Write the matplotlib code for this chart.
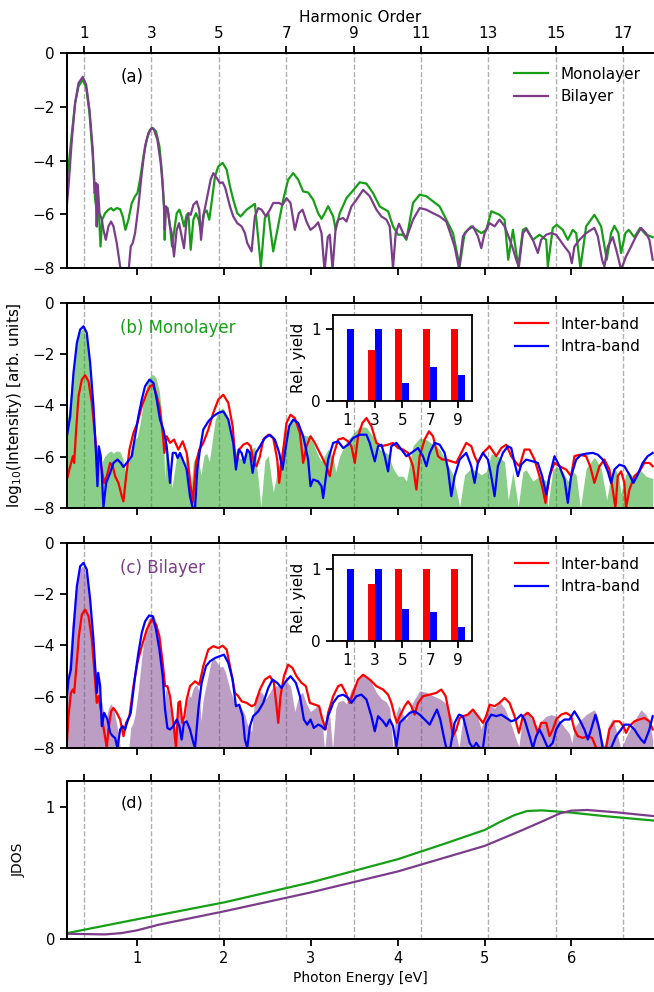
import matplotlib.pyplot as plt
import numpy as np

# photon energy of the driving field [eV]
w0 = 0.388
harm = [1, 3, 5, 7, 9, 11, 13, 15, 17]

# (a) total spectra, log10 intensity vs photon energy [eV]
mono_E = [0.180, 0.211, 0.249, 0.287, 0.326, 0.375, 0.414, 0.452, 0.490, 0.517, 0.529, 0.536, 0.548, 0.563,
          0.579, 0.598, 0.632, 0.670, 0.701, 0.728, 0.766, 0.805, 0.835, 0.866, 0.900, 0.939, 0.977, 1.004,
          1.034, 1.073, 1.111, 1.149, 1.180, 1.218, 1.257, 1.287, 1.310, 1.318, 1.330, 1.352, 1.379, 1.402,
          1.429, 1.456, 1.487, 1.513, 1.540, 1.571, 1.590, 1.617, 1.648, 1.678, 1.709, 1.736, 1.770, 1.801,
          1.831, 1.862, 1.897, 1.935, 1.985, 2.031, 2.069, 2.107, 2.153, 2.192, 2.261, 2.356, 2.425, 2.471,
          2.510, 2.567, 2.644, 2.682, 2.739, 2.797, 2.854, 2.912, 2.969, 3.027, 3.084, 3.123, 3.161, 3.199,
          3.257, 3.287, 3.333, 3.410, 3.487, 3.563, 3.640, 3.716, 3.793, 3.889, 3.946, 4.004, 4.061, 4.100,
          4.176, 4.253, 4.330, 4.406, 4.483, 4.559, 4.636, 4.713, 4.770, 4.847, 4.962, 5.019, 5.077, 5.172,
          5.230, 5.272, 5.326, 5.387, 5.441, 5.479, 5.556, 5.632, 5.709, 5.728, 5.785, 5.831, 5.900, 5.958,
          6.015, 6.054, 6.103, 6.169, 6.264, 6.341, 6.406, 6.456, 6.494, 6.540, 6.571, 6.621, 6.659, 6.724,
          6.789, 6.858, 6.935]
mono_I = [-4.96, -4.22, -2.98, -1.86, -1.24, -0.99, -1.30, -2.23, -3.85, -5.46, -5.71, -6.45, -5.58, -6.08,
          -7.20, -6.20, -5.96, -5.83, -5.77, -5.86, -5.77, -5.81, -6.08, -6.58, -6.20, -5.58, -5.33, -5.21,
          -4.71, -3.85, -3.23, -2.85, -2.79, -2.92, -3.47, -4.47, -5.71, -6.95, -5.71, -5.77, -6.45, -7.20,
          -6.58, -5.96, -5.83, -6.08, -6.45, -6.02, -5.96, -7.32, -6.20, -5.96, -6.20, -6.70, -5.96, -5.86,
          -6.20, -5.46, -4.59, -4.22, -4.09, -4.34, -4.96, -5.46, -5.96, -6.08, -5.83, -5.61, -7.94, -6.14,
          -5.96, -7.38, -6.08, -5.46, -4.71, -4.47, -4.71, -5.15, -5.19, -5.46, -5.96, -6.17, -5.95, -5.70,
          -6.08, -6.58, -5.96, -5.40, -5.11, -4.81, -4.86, -5.21, -5.71, -5.89, -6.45, -6.76, -6.76, -6.95,
          -5.58, -5.27, -5.33, -5.52, -5.71, -6.20, -6.70, -7.94, -6.70, -6.45, -6.70, -6.58, -5.89, -6.02,
          -6.20, -7.69, -6.58, -7.94, -6.58, -6.51, -6.95, -6.76, -6.95, -7.94, -6.51, -6.39, -6.58, -6.95,
          -6.58, -6.70, -8.00, -6.45, -6.02, -6.45, -7.69, -6.70, -6.43, -6.70, -7.44, -6.70, -6.58, -6.85,
          -6.51, -6.76, -6.85]

bi_E = [0.180, 0.211, 0.249, 0.287, 0.326, 0.375, 0.414, 0.452, 0.490, 0.513, 0.529, 0.536, 0.548, 0.567,
        0.594, 0.613, 0.640, 0.670, 0.701, 0.728, 0.766, 0.805, 0.835, 0.900, 0.927, 0.950, 0.977, 1.015,
        1.054, 1.092, 1.130, 1.169, 1.195, 1.234, 1.272, 1.295, 1.310, 1.318, 1.330, 1.352, 1.379, 1.398,
        1.425, 1.456, 1.483, 1.506, 1.540, 1.571, 1.594, 1.617, 1.648, 1.686, 1.716, 1.736, 1.762, 1.801,
        1.847, 1.877, 1.916, 1.954, 1.985, 2.015, 2.069, 2.107, 2.153, 2.203, 2.241, 2.268, 2.318, 2.356,
        2.395, 2.433, 2.483, 2.529, 2.567, 2.636, 2.674, 2.720, 2.766, 2.816, 2.862, 2.904, 2.950, 2.996,
        3.046, 3.084, 3.123, 3.158, 3.195, 3.218, 3.250, 3.287, 3.314, 3.372, 3.410, 3.467, 3.525, 3.602,
        3.678, 3.755, 3.812, 3.870, 3.908, 3.946, 3.977, 4.015, 4.061, 4.100, 4.176, 4.253, 4.330, 4.406,
        4.483, 4.559, 4.605, 4.655, 4.705, 4.751, 4.808, 4.866, 4.923, 4.962, 5.000, 5.057, 5.115, 5.172,
        5.230, 5.268, 5.318, 5.364, 5.395, 5.441, 5.479, 5.556, 5.613, 5.651, 5.709, 5.766, 5.824, 5.920,
        5.977, 6.004, 6.034, 6.092, 6.169, 6.226, 6.264, 6.303, 6.352, 6.379, 6.418, 6.475, 6.525, 6.571,
        6.628, 6.686, 6.743, 6.801, 6.858, 6.897, 6.935]
bi_I = [-6.14, -4.96, -3.23, -1.86, -1.12, -0.89, -1.18, -2.11, -3.60, -5.21, -4.84, -6.45, -4.90, -5.96,
        -6.20, -6.58, -6.95, -6.45, -6.27, -6.45, -7.07, -7.94, -8.31, -8.19, -7.20, -7.07, -6.70, -5.71,
        -4.47, -3.47, -2.98, -2.79, -2.85, -3.23, -4.09, -4.96, -5.71, -6.58, -5.71, -5.83, -6.45, -6.70,
        -7.57, -6.58, -6.33, -6.70, -7.26, -6.20, -5.96, -6.02, -5.65, -5.52, -5.83, -6.95, -6.08, -5.46,
        -4.71, -4.47, -4.65, -4.84, -4.81, -5.02, -5.71, -6.08, -6.33, -6.45, -6.70, -7.07, -7.38, -6.08,
        -5.77, -5.83, -6.08, -5.83, -5.58, -5.58, -5.65, -5.40, -5.58, -6.58, -5.96, -5.83, -6.27, -6.58,
        -6.45, -6.30, -6.70, -8.10, -6.85, -6.76, -8.05, -6.45, -6.20, -6.14, -6.27, -5.71, -5.46, -5.09,
        -5.33, -5.83, -6.08, -6.20, -6.45, -8.00, -6.70, -6.35, -6.70, -6.89, -6.20, -5.77, -5.83, -5.96,
        -6.08, -6.27, -6.70, -7.20, -8.00, -6.82, -6.58, -6.45, -6.82, -7.26, -6.70, -6.33, -6.45, -6.20,
        -6.45, -6.76, -7.20, -7.69, -7.94, -6.70, -6.55, -6.95, -7.44, -6.95, -6.76, -6.70, -6.76, -7.20,
        -7.44, -7.82, -7.20, -6.95, -6.70, -6.58, -6.51, -6.82, -7.69, -7.94, -7.20, -6.85, -7.44, -8.06,
        -7.57, -7.20, -6.82, -6.51, -6.70, -6.95, -7.69]

# (b) monolayer, inter-band and intra-band contributions
mono_intra_E = [0.192, 0.230, 0.268, 0.307, 0.345, 0.383, 0.421, 0.460, 0.498, 0.525, 0.544, 0.559, 0.582,
                0.613, 0.644, 0.690, 0.728, 0.774, 0.812, 0.843, 0.881, 0.939, 0.977, 1.015, 1.054, 1.092,
                1.142, 1.188, 1.226, 1.264, 1.303, 1.341, 1.379, 1.410, 1.444, 1.467, 1.494, 1.525, 1.571,
                1.609, 1.640, 1.667, 1.693, 1.724, 1.762, 1.820, 1.877, 1.935, 1.992, 2.050, 2.107, 2.138,
                2.169, 2.203, 2.234, 2.268, 2.299, 2.330, 2.368, 2.414, 2.471, 2.529, 2.586, 2.636, 2.674,
                2.713, 2.751, 2.797, 2.854, 2.912, 2.969, 2.996, 3.027, 3.084, 3.123, 3.142, 3.199, 3.257,
                3.314, 3.372, 3.429, 3.487, 3.563, 3.640, 3.678, 3.736, 3.774, 3.812, 3.851, 3.889, 3.927,
                3.985, 4.042, 4.100, 4.157, 4.234, 4.291, 4.330, 4.368, 4.425, 4.483, 4.540, 4.579, 4.617,
                4.655, 4.713, 4.789, 4.847, 4.885, 4.923, 4.981, 5.038, 5.077, 5.115, 5.153, 5.211, 5.268,
                5.307, 5.345, 5.383, 5.421, 5.479, 5.556, 5.613, 5.663, 5.709, 5.747, 5.805, 5.862, 5.920,
                5.958, 5.996, 6.054, 6.111, 6.169, 6.245, 6.303, 6.360, 6.418, 6.456, 6.494, 6.552, 6.609,
                6.667, 6.713, 6.762, 6.820, 6.877, 6.935]
mono_intra_I = [-5.20, -4.42, -2.73, -1.56, -1.04, -0.91, -1.17, -2.34, -4.03, -5.72, -7.15, -5.59, -5.98,
                -7.96, -7.02, -6.63, -6.24, -6.11, -6.24, -6.40, -6.24, -5.98, -5.20, -4.42, -3.77, -3.25,
                -2.99, -3.12, -3.77, -4.55, -4.94, -5.59, -7.02, -5.85, -5.85, -6.05, -5.85, -6.11, -6.50,
                -7.54, -8.00, -8.00, -6.50, -5.72, -4.94, -4.62, -4.42, -4.29, -4.23, -4.55, -5.46, -6.50,
                -5.72, -5.85, -6.24, -5.72, -5.85, -6.63, -5.85, -5.59, -5.27, -5.14, -5.33, -5.85, -6.50,
                -5.59, -4.81, -4.55, -4.68, -5.20, -6.11, -7.15, -6.89, -6.96, -7.15, -7.61, -6.11, -5.46,
                -5.40, -5.66, -5.53, -5.27, -5.14, -5.14, -5.46, -6.18, -5.59, -5.53, -5.98, -6.57, -5.59,
                -5.46, -5.72, -5.98, -5.85, -5.66, -5.98, -6.37, -5.85, -5.46, -5.53, -5.85, -6.50, -7.54,
                -6.76, -6.11, -5.85, -6.37, -7.02, -6.24, -5.85, -6.11, -6.76, -7.54, -6.37, -5.85, -5.59,
                -5.66, -6.24, -6.76, -6.31, -6.11, -6.18, -6.24, -6.76, -7.48, -6.76, -5.98, -6.37, -6.89,
                -7.80, -6.76, -6.11, -5.92, -5.88, -5.85, -5.92, -6.11, -6.57, -7.02, -6.50, -6.31, -6.37,
                -6.70, -7.02, -6.70, -6.24, -5.98, -5.85]

mono_inter_E = [0.192, 0.230, 0.261, 0.276, 0.299, 0.326, 0.364, 0.402, 0.441, 0.479, 0.517, 0.544, 0.567,
                0.594, 0.621, 0.651, 0.690, 0.720, 0.747, 0.785, 0.824, 0.843, 0.874, 0.912, 0.958, 1.004,
                1.054, 1.111, 1.149, 1.180, 1.218, 1.257, 1.295, 1.314, 1.341, 1.379, 1.425, 1.475, 1.525,
                1.571, 1.609, 1.640, 1.678, 1.716, 1.762, 1.820, 1.877, 1.935, 1.992, 2.050, 2.100, 2.126,
                2.146, 2.176, 2.222, 2.268, 2.307, 2.345, 2.375, 2.414, 2.452, 2.510, 2.567, 2.613, 2.636,
                2.663, 2.720, 2.766, 2.816, 2.874, 2.912, 2.950, 2.996, 3.046, 3.103, 3.180, 3.218, 3.257,
                3.314, 3.372, 3.429, 3.467, 3.506, 3.544, 3.594, 3.640, 3.697, 3.755, 3.812, 3.889, 3.946,
                4.004, 4.061, 4.119, 4.176, 4.215, 4.253, 4.310, 4.360, 4.406, 4.464, 4.513, 4.559, 4.617,
                4.674, 4.732, 4.789, 4.847, 4.885, 4.923, 4.981, 5.057, 5.134, 5.192, 5.249, 5.307, 5.364,
                5.402, 5.460, 5.517, 5.575, 5.632, 5.670, 5.701, 5.747, 5.805, 5.862, 5.939, 5.996, 6.034,
                6.092, 6.169, 6.215, 6.264, 6.322, 6.379, 6.437, 6.475, 6.506, 6.533, 6.571, 6.609, 6.628,
                6.667, 6.724, 6.782, 6.839, 6.897, 6.935]
mono_inter_I = [-6.89, -6.37, -5.98, -6.24, -4.94, -3.64, -2.99, -2.82, -3.06, -3.90, -5.20, -6.24, -5.98,
                -6.50, -7.02, -6.76, -6.24, -6.37, -6.76, -7.02, -7.54, -7.74, -6.76, -5.72, -5.07, -4.68,
                -4.03, -3.51, -3.25, -3.19, -3.51, -4.03, -5.07, -5.85, -5.20, -5.46, -5.33, -5.72, -5.40,
                -5.85, -6.89, -7.80, -6.24, -5.72, -5.46, -4.94, -4.29, -3.77, -3.58, -3.90, -4.81, -5.85,
                -6.24, -5.72, -5.53, -5.46, -5.59, -6.24, -6.37, -5.98, -5.33, -5.14, -5.27, -6.11, -7.02,
                -6.24, -4.68, -4.36, -4.49, -5.07, -6.24, -5.59, -5.20, -5.46, -5.85, -6.37, -6.76, -5.98,
                -5.33, -5.27, -5.40, -5.59, -6.24, -5.20, -4.68, -4.49, -4.81, -5.46, -5.59, -5.53, -5.46,
                -5.66, -5.72, -5.85, -6.37, -7.28, -5.98, -5.33, -5.01, -5.20, -5.98, -6.11, -6.11, -6.18,
                -6.24, -5.85, -5.46, -5.59, -5.98, -6.24, -5.85, -5.59, -5.98, -5.66, -5.53, -5.98, -6.24,
                -6.37, -5.72, -5.72, -6.11, -6.76, -7.28, -7.80, -6.76, -6.24, -6.37, -6.50, -6.76, -5.98,
                -5.92, -5.98, -6.37, -7.02, -6.37, -6.11, -6.50, -7.28, -8.00, -6.76, -6.57, -7.02, -8.00,
                -7.28, -6.76, -6.57, -6.24, -6.24, -6.37]

# (c) bilayer, inter-band and intra-band contributions
bi_intra_E = [0.192, 0.211, 0.238, 0.268, 0.307, 0.345, 0.383, 0.421, 0.460, 0.498, 0.521, 0.536, 0.552,
              0.575, 0.594, 0.621, 0.659, 0.690, 0.720, 0.747, 0.774, 0.805, 0.835, 0.862, 0.889, 0.927,
              0.977, 1.015, 1.054, 1.092, 1.138, 1.180, 1.218, 1.257, 1.295, 1.322, 1.349, 1.379, 1.418,
              1.456, 1.487, 1.513, 1.540, 1.571, 1.609, 1.648, 1.667, 1.705, 1.743, 1.793, 1.839, 1.897,
              1.954, 2.000, 2.050, 2.100, 2.138, 2.176, 2.215, 2.241, 2.268, 2.299, 2.337, 2.395, 2.452,
              2.510, 2.559, 2.613, 2.663, 2.713, 2.766, 2.828, 2.874, 2.920, 2.958, 2.996, 3.034, 3.084,
              3.123, 3.161, 3.199, 3.257, 3.314, 3.372, 3.429, 3.467, 3.525, 3.582, 3.640, 3.697, 3.736,
              3.774, 3.831, 3.870, 3.908, 3.946, 3.985, 4.023, 4.080, 4.138, 4.195, 4.253, 4.310, 4.368,
              4.414, 4.452, 4.490, 4.529, 4.559, 4.605, 4.655, 4.705, 4.751, 4.789, 4.828, 4.866, 4.904,
              4.943, 4.981, 5.019, 5.077, 5.134, 5.192, 5.249, 5.307, 5.364, 5.421, 5.460, 5.517, 5.556,
              5.594, 5.632, 5.670, 5.728, 5.785, 5.824, 5.870, 5.920, 5.977, 6.034, 6.092, 6.149, 6.188,
              6.226, 6.276, 6.322, 6.360, 6.456, 6.513, 6.571, 6.609, 6.667, 6.724, 6.762, 6.801, 6.839,
              6.897, 6.935]
bi_intra_I = [-5.98, -5.33, -4.94, -3.38, -1.69, -0.91, -0.78, -1.04, -2.21, -3.77, -5.07, -5.85, -5.07,
              -5.59, -7.15, -6.63, -6.89, -7.41, -7.54, -7.61, -8.00, -7.28, -7.15, -7.28, -6.96, -6.63,
              -5.20, -4.29, -3.51, -3.06, -2.83, -2.86, -3.38, -4.16, -5.20, -6.50, -7.22, -7.28, -7.15,
              -6.89, -7.15, -7.67, -7.02, -6.96, -7.28, -7.80, -8.00, -6.50, -5.46, -4.81, -4.62, -4.49,
              -4.42, -4.36, -4.68, -5.33, -6.37, -6.31, -6.76, -7.67, -8.00, -7.15, -6.76, -6.57, -6.24,
              -5.66, -5.33, -5.46, -5.66, -5.40, -5.20, -5.46, -5.98, -6.89, -7.09, -6.89, -7.22, -7.09,
              -7.15, -7.28, -6.76, -6.24, -5.98, -5.92, -6.05, -6.24, -5.98, -5.92, -6.11, -6.76, -7.35,
              -6.76, -6.96, -7.15, -6.89, -7.15, -7.93, -7.02, -6.83, -6.63, -6.57, -6.70, -6.89, -7.09,
              -6.76, -6.50, -6.89, -7.54, -8.00, -8.00, -7.02, -6.70, -6.76, -7.28, -7.80, -8.00, -7.80,
              -8.00, -8.00, -7.02, -6.70, -6.76, -6.70, -6.83, -6.96, -6.89, -6.70, -6.89, -7.54, -8.00,
              -7.54, -7.28, -7.54, -8.00, -7.80, -7.28, -7.02, -6.89, -6.89, -6.57, -6.89, -7.28, -7.67,
              -7.28, -6.70, -7.28, -8.00, -8.00, -7.54, -7.28, -7.09, -7.09, -7.28, -7.48, -7.67, -7.80,
              -7.28, -6.76]

bi_inter_E = [0.192, 0.211, 0.238, 0.261, 0.276, 0.299, 0.330, 0.364, 0.402, 0.441, 0.479, 0.510, 0.536,
              0.559, 0.575, 0.605, 0.632, 0.651, 0.670, 0.701, 0.728, 0.766, 0.805, 0.843, 0.874, 0.912,
              0.958, 1.004, 1.054, 1.111, 1.169, 1.218, 1.257, 1.295, 1.322, 1.349, 1.379, 1.418, 1.448,
              1.475, 1.494, 1.521, 1.544, 1.571, 1.609, 1.667, 1.716, 1.762, 1.820, 1.877, 1.935, 1.985,
              2.031, 2.077, 2.126, 2.165, 2.203, 2.261, 2.318, 2.356, 2.414, 2.471, 2.529, 2.575, 2.605,
              2.625, 2.651, 2.690, 2.739, 2.789, 2.835, 2.893, 2.943, 2.989, 3.046, 3.096, 3.123, 3.170,
              3.199, 3.257, 3.314, 3.352, 3.402, 3.448, 3.487, 3.544, 3.602, 3.678, 3.755, 3.831, 3.889,
              3.927, 3.966, 3.992, 4.023, 4.080, 4.119, 4.157, 4.195, 4.234, 4.291, 4.368, 4.444, 4.502,
              4.552, 4.598, 4.636, 4.674, 4.713, 4.751, 4.808, 4.866, 4.923, 4.981, 5.019, 5.057, 5.115,
              5.172, 5.230, 5.287, 5.345, 5.395, 5.441, 5.498, 5.556, 5.613, 5.651, 5.709, 5.747, 5.785,
              5.824, 5.881, 5.939, 5.996, 6.034, 6.073, 6.130, 6.188, 6.238, 6.284, 6.398, 6.437, 6.494,
              6.552, 6.598, 6.628, 6.667, 6.724, 6.782, 6.839, 6.897, 6.935]
bi_inter_I = [-7.80, -6.76, -5.85, -5.72, -5.85, -4.94, -3.64, -2.80, -2.60, -2.86, -3.77, -5.07, -6.24,
              -5.98, -6.37, -7.02, -7.61, -8.00, -7.28, -6.57, -6.44, -6.63, -6.89, -7.54, -7.02, -6.76,
              -5.59, -4.68, -4.03, -3.38, -2.99, -3.19, -3.64, -4.68, -5.59, -5.59, -5.98, -7.02, -8.00,
              -6.24, -6.18, -7.02, -6.76, -6.11, -5.59, -5.40, -5.53, -4.81, -4.16, -4.03, -4.10, -4.01,
              -4.16, -4.94, -5.85, -5.98, -6.18, -6.24, -6.37, -6.31, -5.72, -5.33, -5.20, -5.46, -6.37,
              -7.02, -5.98, -5.20, -4.75, -4.88, -5.20, -5.46, -5.59, -6.24, -6.31, -6.37, -6.76, -7.28,
              -6.63, -5.98, -5.59, -5.53, -5.85, -6.24, -5.85, -5.33, -5.14, -5.33, -5.59, -5.72, -5.92,
              -6.24, -6.76, -7.02, -6.76, -6.37, -6.18, -6.37, -6.70, -6.24, -5.98, -5.92, -5.85, -5.72,
              -5.98, -6.76, -7.54, -7.28, -6.83, -6.76, -6.70, -6.50, -6.76, -7.02, -6.76, -6.31, -6.37,
              -6.24, -6.05, -6.24, -6.76, -7.41, -6.76, -6.63, -6.83, -7.41, -7.02, -7.02, -7.54, -7.28,
              -6.89, -6.70, -6.63, -6.76, -7.28, -7.54, -7.61, -7.54, -7.61, -8.00, -8.00, -7.28, -6.96,
              -6.96, -7.15, -7.41, -7.15, -6.96, -6.89, -6.83, -6.96, -7.28]

# relative yields of harmonics 1..9 (insets)
orders = [1, 3, 5, 7, 9]
mono_inter_yield = [0.01, 0.71, 1.0, 1.0, 1.0]
mono_intra_yield = [1.0, 1.0, 0.25, 0.48, 0.36]
bi_inter_yield = [0.01, 0.80, 1.0, 1.0, 1.0]
bi_intra_yield = [1.0, 1.0, 0.44, 0.41, 0.19]

# (d) joint density of states
jdos_mono_E = [0.195, 1.0, 2.0, 3.0, 4.0, 4.5, 5.0, 5.18, 5.34, 5.49, 5.66, 6.0, 6.37, 6.94]
jdos_mono = [0.045, 0.15, 0.278, 0.43, 0.606, 0.715, 0.828, 0.89, 0.94, 0.972, 0.977, 0.96, 0.934, 0.90]
jdos_bi_E = [0.195, 0.63, 0.82, 1.0, 1.25, 2.0, 3.0, 4.0, 5.0, 5.42, 5.7, 5.87, 6.0, 6.18, 6.52, 6.94]
jdos_bi = [0.04, 0.035, 0.045, 0.066, 0.109, 0.21, 0.354, 0.513, 0.707, 0.823, 0.904, 0.955, 0.975, 0.98,
           0.962, 0.934]

green = '#169f16'
purple = '#7b3d89'
xlim = (0.19, 6.95)

plt.rcParams['font.size'] = 11
plt.rcParams['axes.linewidth'] = 1.3
plt.rcParams['xtick.major.width'] = 1.3
plt.rcParams['ytick.major.width'] = 1.3
plt.rcParams['xtick.major.size'] = 5
plt.rcParams['ytick.major.size'] = 5

fig = plt.figure(figsize=(6.54, 9.92), dpi=100)
L, W = 0.102, 0.898


def panel(rect, ylim, yticks, top_labels=False):
    ax = fig.add_axes(rect)
    ax.set_xlim(*xlim)
    ax.set_ylim(*ylim)
    ax.set_yticks(yticks)
    ax.set_xticks(range(1, 7))
    ax.spines['right'].set_visible(False)
    for n in harm:
        ax.axvline(n * w0, color='#b0b0b0', ls='--', lw=1, zorder=0)
    top = ax.twiny()
    top.set_xlim(*xlim)
    top.set_xticks([n * w0 for n in harm])
    top.spines['right'].set_visible(False)
    if top_labels:
        top.set_xticklabels([str(n) for n in harm])
        top.set_xlabel('Harmonic Order', labelpad=3)
    else:
        top.set_xticklabels([])
    return ax


def inset(rect, inter, intra):
    ax = fig.add_axes(rect)
    o = np.array(orders)
    ax.bar(o - 0.25, inter, 0.5, color='red')
    ax.bar(o + 0.25, intra, 0.5, color='blue')
    ax.set_xlim(0, 10)
    ax.set_ylim(0, 1.2)
    ax.set_xticks(orders)
    ax.set_yticks([0, 1])
    ax.set_ylabel('Rel. yield')
    return ax


# (a)
ax_a = panel([L, 0.7298, W, 0.2168], (-8, 0), [0, -2, -4, -6, -8], top_labels=True)
ax_a.plot(mono_E, mono_I, color=green, lw=1.6, label='Monolayer')
ax_a.plot(bi_E, bi_I, color=purple, lw=1.6, label='Bilayer')
ax_a.tick_params(labelbottom=False)
ax_a.legend(loc='upper right', frameon=False, fontsize=11, handlelength=2.2)
ax_a.text(0.091, 0.888, '(a)', transform=ax_a.transAxes, fontsize=12, va='center')

# (b)
ax_b = panel([L, 0.4879, W, 0.2067], (-8, 0), [0, -2, -4, -6, -8])
ax_b.fill_between(mono_E, mono_I, -10, color=green, alpha=0.5, lw=0)
ax_b.plot(mono_inter_E, mono_inter_I, color='red', lw=1.6, label='Inter-band')
ax_b.plot(mono_intra_E, mono_intra_I, color='blue', lw=1.6, label='Intra-band')
ax_b.tick_params(labelbottom=False)
ax_b.legend(loc='upper right', frameon=False, fontsize=11, handlelength=2.2)
ax_b.text(0.091, 0.878, '(b) Monolayer', color=green, transform=ax_b.transAxes, fontsize=12, va='center')
ax_b.set_ylabel(r'log$_{10}$(Intensity) [arb. units]')
ax_b.yaxis.set_label_coords(-0.072, 0.5)
inset([0.509, 0.5958, 0.2125, 0.0867], mono_inter_yield, mono_intra_yield)

# (c)
ax_c = panel([L, 0.2460, W, 0.2067], (-8, 0), [0, -2, -4, -6, -8])
ax_c.fill_between(bi_E, bi_I, -10, color=purple, alpha=0.5, lw=0)
ax_c.plot(bi_inter_E, bi_inter_I, color='red', lw=1.6, label='Inter-band')
ax_c.plot(bi_intra_E, bi_intra_I, color='blue', lw=1.6, label='Intra-band')
ax_c.tick_params(labelbottom=False)
ax_c.legend(loc='upper right', frameon=False, fontsize=11, handlelength=2.2)
ax_c.text(0.091, 0.878, '(c) Bilayer', color=purple, transform=ax_c.transAxes, fontsize=12, va='center')
inset([0.509, 0.3538, 0.2125, 0.0867], bi_inter_yield, bi_intra_yield)

# (d)
ax_d = panel([L, 0.0534, W, 0.1593], (0, 1.2), [0, 1])
ax_d.plot(jdos_mono_E, jdos_mono, color=green, lw=1.6)
ax_d.plot(jdos_bi_E, jdos_bi, color=purple, lw=1.6)
ax_d.tick_params(labelsize=10.5)
ax_d.set_xlabel('Photon Energy [eV]', fontsize=10)
ax_d.set_ylabel('JDOS', fontsize=10)
ax_d.yaxis.set_label_coords(-0.07, 0.5)
ax_d.text(0.092, 0.86, '(d)', transform=ax_d.transAxes, fontsize=11.5, va='center')

fig.savefig('out.png', dpi=100)
